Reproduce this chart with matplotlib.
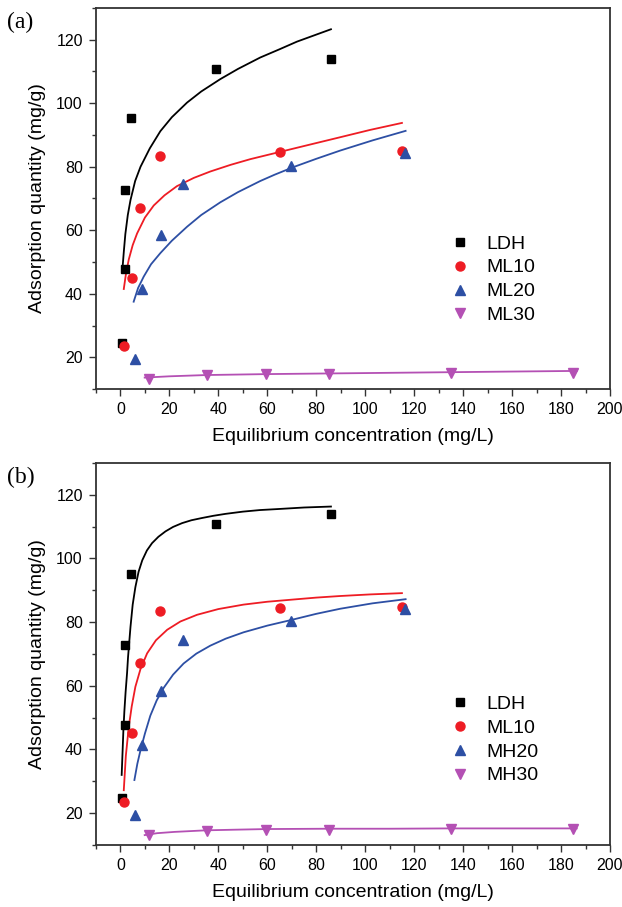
import matplotlib.pyplot as plt
from matplotlib.ticker import MultipleLocator

plt.rcParams['font.family'] = ['Liberation Sans', 'DejaVu Sans']

# measured points (same experiments in both panels)
ldh_x = [0.7, 1.8, 2.0, 4.5, 39, 86]
ldh_y = [24.6, 47.7, 72.7, 95.2, 110.9, 113.9]
ml10_x = [1.4, 4.8, 7.8, 16.3, 65.3, 115]
ml10_y = [23.4, 45.1, 67.1, 83.4, 84.5, 84.9]
m20_x = [5.8, 8.6, 16.7, 25.4, 69.8, 116.3]
m20_y = [19.5, 41.5, 58.5, 74.5, 80.3, 84.2]
m30_x = [11.8, 35.4, 59.5, 85, 135, 184.8]
m30_y = [13.0, 14.4, 14.7, 14.8, 15.0, 15.1]

labels_a = ['LDH', 'ML10', 'ML20', 'ML30']
labels_b = ['LDH', 'ML10', 'MH20', 'MH30']

# fitted curves
fa_ldh_x = [0.95, 1.4, 2.0, 3.0, 4.1, 6.0, 8.2, 12.0, 16.3, 21.0, 27.2, 33.0, 40.8, 48.0, 57.1, 65.0, 72.1, 86.0]
fa_ldh_y = [49.1, 53.5, 58.8, 64.8, 69.5, 75.5, 80.0, 85.8, 91.2, 95.6, 100.2, 103.7, 107.6, 110.8, 114.4, 117.0, 119.4, 123.3]
fa_ml10_x = [1.36, 2.2, 3.4, 5.0, 6.8, 10.0, 13.6, 18.0, 23.1, 30.0, 36.7, 45.0, 53.1, 65.3, 77.0, 89.8, 102.0, 115.0]
fa_ml10_y = [41.5, 46.0, 50.8, 55.3, 59.0, 64.0, 67.8, 71.0, 73.9, 76.5, 78.5, 80.6, 82.4, 84.7, 86.9, 89.3, 91.6, 93.8]
fa_m20_x = [5.4, 7.2, 9.5, 12.5, 16.3, 21.0, 27.2, 33.0, 40.8, 48.0, 57.1, 63.0, 70.7, 80.0, 89.8, 103.0, 116.5]
fa_m20_y = [37.5, 41.8, 45.4, 49.3, 52.8, 56.7, 61.1, 64.8, 68.8, 72.0, 75.5, 77.5, 79.9, 82.5, 85.1, 88.3, 91.3]
fa_m30_x = [9.9, 20.0, 35.0, 60.0, 85.0, 110.0, 135.0, 160.0, 186.4]
fa_m30_y = [13.6, 14.0, 14.4, 14.7, 14.9, 15.1, 15.3, 15.5, 15.7]

# fitted curves
fb_ldh_x = [0.5, 0.9, 1.2, 1.6, 2.1, 2.7, 3.1, 4.1, 5.0, 6.1, 7.4, 8.9, 10.8, 12.9, 15.5, 18.4, 21.5,
            25.2, 29.0, 33.3, 38.0, 42.9, 50.0, 57.0, 64.0, 75.0, 86.0]
fb_ldh_y = [32.0, 40.0, 46.0, 52.0, 58.0, 64.0, 69.0, 78.5, 85.5, 91.0, 95.8, 99.4, 102.5, 104.8, 106.8,
            108.5, 109.9, 111.1, 112.0, 112.7, 113.4, 114.0, 114.7, 115.2, 115.5, 116.0, 116.3]
fb_ml10_x = [1.36, 2.2, 3.4, 4.6, 6.1, 8.2, 10.9, 14.5, 19.1, 24.5, 31.3, 40.0, 50.3, 60.0, 70.7, 80.0, 89.8, 102.0, 115.0]
fb_ml10_y = [27.2, 38.0, 47.1, 53.5, 59.7, 65.3, 70.2, 74.3, 77.6, 80.2, 82.3, 84.1, 85.5, 86.4, 87.1, 87.7, 88.2, 88.7, 89.1]
fb_m20_x = [5.7, 6.9, 8.2, 10.0, 12.2, 14.8, 17.7, 21.5, 25.8, 31.0, 36.7, 43.0, 50.3, 60.0, 69.4, 80.0, 89.8, 103.0, 116.5]
fb_m20_y = [30.4, 35.5, 39.8, 45.0, 50.6, 55.4, 59.4, 63.5, 67.0, 70.1, 72.6, 74.8, 76.8, 78.9, 80.6, 82.6, 84.2, 85.9, 87.2]
fb_m30_x = [9.9, 15.0, 22.0, 35.0, 47.0, 60.0, 85.0, 110.0, 135.0, 160.0, 186.4]
fb_m30_y = [13.1, 13.7, 14.1, 14.6, 14.8, 15.0, 15.1, 15.1, 15.2, 15.2, 15.2]

colors = ['black', '#ee1c24', '#2d4fa4', '#b450b4']
markers = ['s', 'o', '^', 'v']
msizes = [6, 6.5, 7, 7]


def draw_panel(ax, curves, labels, tag, leg_top):
    points = [(ldh_x, ldh_y), (ml10_x, ml10_y), (m20_x, m20_y), (m30_x, m30_y)]
    for (cx, cy), c in zip(curves, colors):
        ax.plot(cx, cy, color=c, lw=1.3)
    for (px, py), c, m, s, lab in zip(points, colors, markers, msizes, labels):
        ax.plot(px, py, ls='none', marker=m, ms=s, color=c, mec=c, label=lab)
    ax.set_xlim(-10, 200)
    ax.set_ylim(10, 130)
    ax.xaxis.set_major_locator(MultipleLocator(20))
    ax.xaxis.set_minor_locator(MultipleLocator(10))
    ax.yaxis.set_minor_locator(MultipleLocator(10))
    ax.set_yticks([20, 40, 60, 80, 100, 120])
    ax.tick_params(which='major', direction='out', length=5, width=1, pad=4.5,
                   labelsize=11.5, color='#333333')
    ax.tick_params(which='minor', direction='out', length=3, width=1, color='#333333')
    for sp in ax.spines.values():
        sp.set_linewidth(1.3)
        sp.set_color('#333333')
    ax.set_xlabel('Equilibrium concentration (mg/L)', fontsize=14, labelpad=8)
    ax.set_ylabel('Adsorption quantity (mg/g)', fontsize=14, labelpad=7)
    ax.legend(loc='upper left', bbox_to_anchor=(0.656, leg_top), frameon=False,
              fontsize=14, handlelength=1.0, handletextpad=0.85, labelspacing=0.32)
    ax.text(-0.173, 0.99, tag, transform=ax.transAxes, fontsize=17,
            family=['Liberation Serif', 'DejaVu Serif'], va='top', ha='left')


fig = plt.figure(figsize=(6.22, 9.07), dpi=100)
ax1 = fig.add_axes([0.1543, 0.5711, 0.8264, 0.4201])
ax2 = fig.add_axes([0.1543, 0.0684, 0.8264, 0.4212])

draw_panel(ax1, [(fa_ldh_x, fa_ldh_y), (fa_ml10_x, fa_ml10_y), (fa_m20_x, fa_m20_y), (fa_m30_x, fa_m30_y)],
           labels_a, '(a)', 0.45)
draw_panel(ax2, [(fb_ldh_x, fb_ldh_y), (fb_ml10_x, fb_ml10_y), (fb_m20_x, fb_m20_y), (fb_m30_x, fb_m30_y)],
           labels_b, '(b)', 0.4375)

fig.savefig('out.png', dpi=100)
